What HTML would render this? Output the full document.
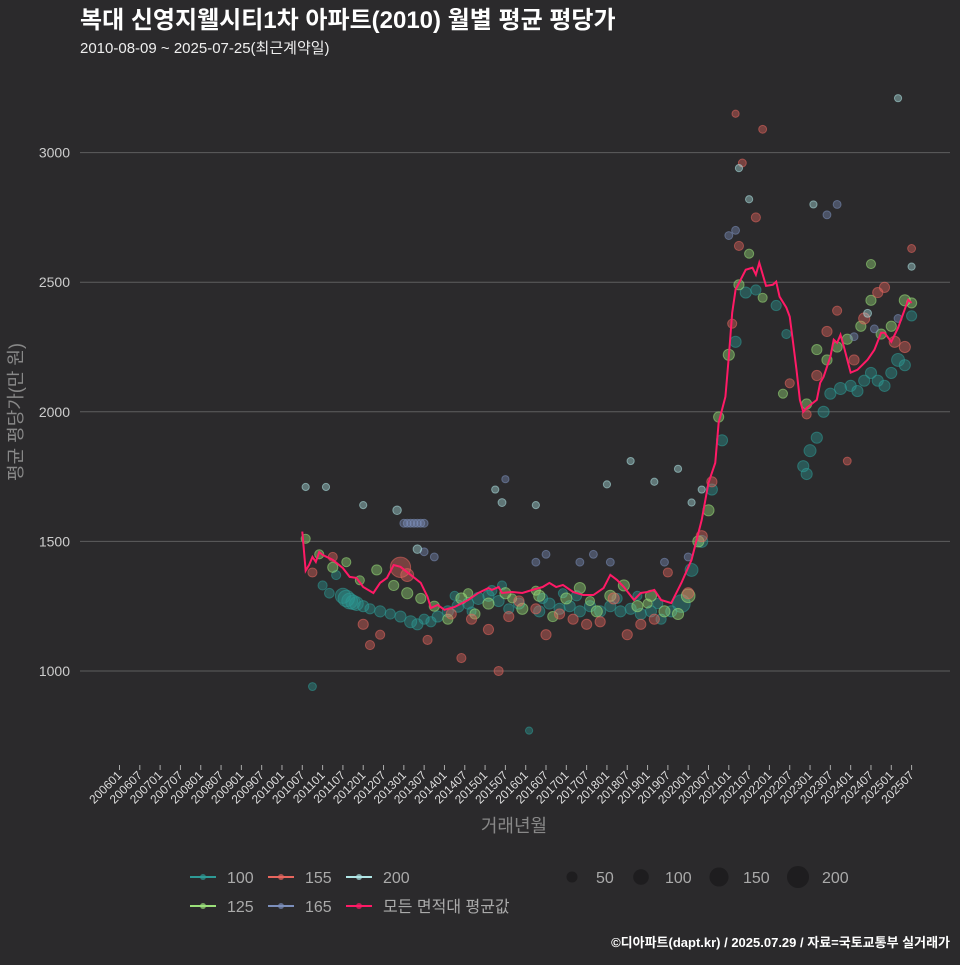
<!DOCTYPE html>
<html><head><meta charset="utf-8"><style>
body{margin:0;background:#2b2a2c;}
svg text{font-family:"Liberation Sans","Noto Sans CJK KR",sans-serif;}
</style></head><body>
<svg id="chart" width="960" height="960" xmlns="http://www.w3.org/2000/svg">
<rect width="960" height="960" fill="#2b2a2c"/>
<text x="80" y="28" fill="#fff" font-size="24" font-weight="bold">복대 신영지웰시티1차 아파트(2010) 월별 평균 평당가</text>
<text x="80" y="53" fill="#eee" font-size="15">2010-08-09 ~ 2025-07-25(최근계약일)</text>
<g id="grid"></g><g id="pts"></g><g id="line"></g><g id="xaxis"></g>
<text transform="translate(22,412) rotate(-90)" text-anchor="middle" fill="#888" font-size="18">평균 평당가(만 원)</text>
<text x="514" y="832" text-anchor="middle" fill="#888" font-size="18">거래년월</text>
<g id="legend"></g>
<text x="950" y="947" text-anchor="end" fill="#fff" font-size="13" font-weight="bold">©디아파트(dapt.kr) / 2025.07.29 / 자료=국토교통부 실거래가</text>
</svg>
<script>
const yTicks=[1000,1500,2000,2500,3000];
const lineMonths=["201007","201008","201009","201010","201011","201012","201101","201104","201107","201109","201111","201201","201204","201206","201208","201210","201212","201303","201306","201308","201309","201311","201401","201404","201408","201411","201502","201503","201505","201506","201509","201512","201603","201606","201608","201610","201612","201703","201706","201709","201712","201802","201804","201806","201809","201811","201901","201903","201905","201908","201911","202002","202005","202007","202009","202010","202012","202101","202102","202103","202106","202108","202109","202110","202112","202202","202203","202204","202206","202207","202208","202209","202210","202211","202212","202303","202304","202305","202307","202308","202309","202310","202311","202401","202403","202406","202408","202410","202411","202501","202503","202506","202507"];
const lineValues=[1538,1387,1409,1440,1421,1459,1448,1429,1397,1363,1359,1324,1301,1340,1359,1409,1402,1371,1340,1286,1243,1255,1236,1247,1274,1301,1320,1313,1324,1301,1305,1301,1313,1324,1340,1324,1332,1305,1293,1293,1320,1371,1351,1324,1274,1301,1305,1313,1274,1262,1340,1429,1583,1726,1803,1958,2058,2212,2382,2471,2548,2556,2529,2575,2486,2490,2502,2444,2402,2367,2266,2162,2046,2000,2015,2046,2112,2135,2212,2278,2266,2297,2251,2151,2162,2201,2239,2305,2305,2270,2324,2432,2420];
const s100=[["201010",940,30],["201101",1330,40],["201103",1300,45],["201105",1370,40],["201107",1290,110],["201108",1280,130],["201109",1270,120],["201110",1265,100],["201111",1260,90],["201201",1250,60],["201203",1240,50],["201206",1230,60],["201209",1220,50],["201212",1210,60],["201303",1190,70],["201305",1180,60],["201307",1200,50],["201309",1190,50],["201311",1210,60],["201402",1230,60],["201405",1250,70],["201408",1260,60],["201411",1280,70],["201502",1290,60],["201505",1270,60],["201508",1240,50],["201511",1260,60],["201602",770,25],["201605",1230,60],["201608",1260,60],["201611",1240,60],["201702",1250,60],["201705",1230,60],["201708",1250,60],["201711",1230,60],["201802",1250,60],["201805",1230,60],["201808",1240,60],["201811",1220,60],["201902",1230,60],["201905",1200,50],["201908",1230,60],["201911",1260,150],["202002",1390,80],["202005",1500,70],["202008",1700,60],["202011",1890,60],["202103",2270,60],["202106",2460,60],["202109",2470,50],["202203",2410,50],["202206",2300,40],["202211",1790,60],["202212",1760,60],["202301",1850,70],["202303",1900,60],["202305",2000,60],["202307",2070,60],["202310",2090,70],["202401",2100,60],["202403",2080,60],["202405",2120,60],["202407",2150,60],["202409",2120,60],["202411",2100,60],["202501",2150,60],["202503",2200,80],["202505",2180,60],["202507",2370,50],["201404",1290,40],["201409",1230,40],["201503",1310,50],["201606",1280,50],["201704",1290,50],["201804",1280,50],["201810",1290,40],["201904",1260,50],["201612",1300,40],["201506",1330,40]];
const s125=[["201008",1510,40],["201012",1450,40],["201104",1400,50],["201108",1420,40],["201112",1350,40],["201205",1390,50],["201210",1330,50],["201302",1300,60],["201306",1280,50],["201310",1250,50],["201402",1200,50],["201406",1280,60],["201410",1220,50],["201502",1260,60],["201507",1300,60],["201512",1240,60],["201605",1290,60],["201609",1210,50],["201701",1280,60],["201705",1320,60],["201710",1230,60],["201802",1290,60],["201806",1330,60],["201810",1250,60],["201902",1290,60],["201906",1230,60],["201910",1220,60],["202001",1290,90],["202004",1500,60],["202007",1620,60],["202010",1980,50],["202101",2220,60],["202104",2490,50],["202107",2610,40],["202111",2440,40],["202205",2070,40],["202212",2030,50],["202303",2240,50],["202306",2200,50],["202309",2250,50],["202312",2280,50],["202404",2330,50],["202407",2430,50],["202410",2300,50],["202501",2330,50],["202505",2430,60],["202507",2420,50],["202407",2570,40],["201408",1300,40],["201604",1310,40],["201708",1270,40],["201901",1260,40],["201509",1280,40]];
const s155=[["201010",1380,40],["201104",1440,40],["201201",1180,50],["201203",1100,40],["201206",1140,40],["201212",1400,200],["201302",1370,80],["201308",1120,40],["201403",1220,50],["201406",1050,40],["201409",1200,50],["201502",1160,50],["201505",1000,40],["201508",1210,50],["201511",1270,50],["201604",1240,50],["201607",1140,50],["201611",1220,50],["201703",1200,50],["201707",1180,50],["201711",1190,50],["201803",1280,60],["201807",1140,50],["201811",1180,50],["201903",1200,50],["201907",1380,40],["202001",1300,60],["202005",1520,60],["202008",1730,50],["202102",2340,40],["202104",2640,40],["202105",2960,30],["202103",3150,25],["202109",2750,40],["202111",3090,30],["202207",2110,40],["202212",1990,40],["202303",2140,50],["202306",2310,50],["202309",2390,40],["202312",1810,30],["202402",2200,50],["202405",2360,60],["202409",2460,50],["202411",2480,50],["202502",2270,60],["202505",2250,60],["202507",2630,30]];
const s165=[["201301",1570,30],["201302",1570,30],["201303",1570,30],["201304",1570,30],["201305",1570,30],["201306",1570,30],["201307",1570,30],["201307",1460,30],["201310",1440,30],["201507",1740,25],["201604",1420,30],["201607",1450,30],["201705",1420,30],["201709",1450,30],["201802",1420,30],["201906",1420,30],["202001",1440,30],["202101",2680,30],["202103",2700,30],["202306",2760,30],["202309",2800,30],["202402",2290,30],["202408",2320,30],["202503",2360,30]];
const s200=[["201008",1710,25],["201102",1710,25],["201201",1640,25],["201211",1620,35],["201305",1470,35],["201504",1700,25],["201506",1650,30],["201604",1640,25],["201801",1720,25],["201808",1810,25],["201903",1730,25],["201910",1780,25],["202002",1650,25],["202005",1700,25],["202104",2940,25],["202107",2820,25],["202302",2800,25],["202406",2380,30],["202503",3210,25],["202507",2560,25]];
const series=[["100",s100,"#2e9a96"],["125",s125,"#9be07a"],["155",s155,"#e8665e"],["165",s165,"#7c8fbc"],["200",s200,"#b0e6e6"]];
const tickLabels=[];for(let y=2006;y<=2025;y++){tickLabels.push(y+"01");tickLabels.push(y+"07");}
const NS="http://www.w3.org/2000/svg";
function mk(t,a,p){const e=document.createElementNS(NS,t);for(const k in a)e.setAttribute(k,a[k]);p.appendChild(e);return e;}
function mi(s){return (parseInt(s.slice(0,4))-2006)*12+parseInt(s.slice(4))-1;}
function X(s){return 119.5+mi(s)*3.385;}
function Y(v){return 671-(v-1000)*0.2592;}
function R(s){return Math.sqrt(s)*0.72;}
const grid=document.getElementById('grid');
yTicks.forEach(v=>{
 const l=mk('line',{x1:80,x2:950,y1:Y(v),y2:Y(v),stroke:'#5e5e5e','stroke-width':1},grid);
 
 
 const t=mk('text',{x:70,y:Y(v)+5,'text-anchor':'end',fill:'#ccc','font-size':14},grid);t.textContent=v;
 
 
});
const xa=document.getElementById('xaxis');
tickLabels.forEach(s=>{
 const x=X(s);
 const l=mk('line',{x1:x,x2:x,y1:765,y2:770,stroke:'#aaa'},xa);
 
 
 const t=mk('text',{transform:`translate(${x+3},${776}) rotate(-45)`,'text-anchor':'end',fill:'#ddd','font-size':12},xa);t.textContent=s;
 
 
});
const pts=document.getElementById('pts');
series.forEach(([nm,arr,col])=>{arr.forEach(p=>{
 const c=mk('circle',{cx:X(p[0]),cy:Y(p[1]),r:R(p[2]),fill:col,'fill-opacity':0.4,stroke:col,'stroke-opacity':0.55},pts);
 
 
});});
const pl=mk('polyline',{points:lineMonths.map((m,i)=>X(m)+','+Y(lineValues[i])).join(' '),fill:'none',stroke:'#ff1a66','stroke-width':2},document.getElementById('line'));


const lg=document.getElementById('legend');
const items=[["100","#2e9a96",190,877],["155","#e8665e",268,877],["200","#b0e6e6",346,877],["125","#9be07a",190,906],["165","#7c8fbc",268,906],["모든 면적대 평균값","#ff1a66",346,906]];
items.forEach(([t,c,x,y])=>{
 const g=mk('g',{},lg);
 
 
 mk('line',{x1:x,x2:x+26,y1:y,y2:y,stroke:c,'stroke-width':2},g);
 mk('circle',{cx:x+13,cy:y,r:3,fill:c,'fill-opacity':0.7},g);
 const tx=mk('text',{x:x+37,y:y+6,fill:'#aaa','font-size':16},g);tx.textContent=t;
});
[[50,572],[100,641],[150,719],[200,798]].forEach(([s,x])=>{
 const g=mk('g',{},lg);
 
 
 mk('circle',{cx:x,cy:877,r:Math.sqrt(s)*0.78,fill:'#1e1d1f'},g);
 const tx=mk('text',{x:x+24,y:883,fill:'#aaa','font-size':16},g);tx.textContent=s;
});
</script>
</body></html>
